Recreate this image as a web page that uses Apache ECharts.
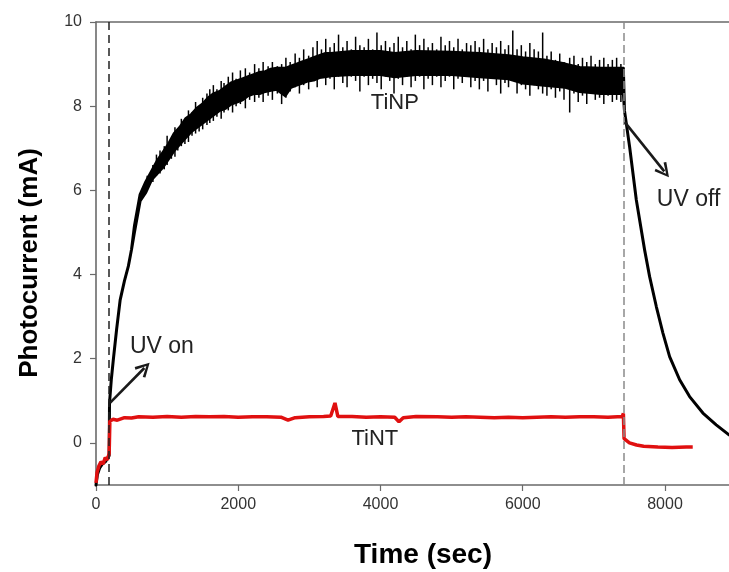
<!DOCTYPE html>
<html>
<head>
<meta charset="utf-8">
<script src="https://cdn.jsdelivr.net/npm/echarts@6/dist/echarts.min.js"></script>
<style>
html, body { margin: 0; padding: 0; background: #fff; }
#chart { width: 729px; height: 572px; }
</style>
</head>
<body>
<div id="chart"></div>
<script>
// TiNP trace (black): time, upper and lower edge of the dense core of the band
const npTime = [0, 20, 50, 90, 130, 170, 185, 190, 215, 245, 290, 340, 400, 455, 500, 540, 620, 700,
  780, 860, 940, 1020, 1100, 1180, 1260, 1340, 1420, 1500, 1580, 1660, 1740, 1820, 1900, 1980,
  2060, 2140, 2220, 2300, 2380, 2460, 2540, 2620, 2660, 2740, 2820, 2900, 2980, 3060, 3140, 3220,
  3300, 3600, 4000, 4200, 4500, 5000, 5400, 5800, 6000, 6300, 6600, 6800, 7100, 7415,
  7430, 7503, 7597, 7714, 7784, 7878, 7971, 8065, 8206, 8346, 8533, 8720, 8900];
const npUpper = [-1.0, -0.75, -0.6, -0.5, -0.45, -0.35, -0.3, 0.95, 1.5, 2.0, 2.7, 3.4, 3.85, 4.2, 4.6, 5.15, 5.9, 6.2,
  6.45, 6.7, 6.9, 7.1, 7.35, 7.5, 7.7, 7.8, 7.95, 8.05, 8.2, 8.3, 8.35, 8.45, 8.55, 8.6,
  8.65, 8.7, 8.75, 8.8, 8.82, 8.88, 8.9, 8.9, 8.9, 8.95, 9.0, 9.05, 9.1, 9.15, 9.2, 9.25,
  9.25, 9.3, 9.3, 9.25, 9.3, 9.28, 9.25, 9.2, 9.15, 9.1, 9.0, 8.92, 8.9, 8.9,
  7.9, 7.03, 5.77, 4.58, 3.95, 3.24, 2.61, 2.05, 1.5, 1.1, 0.71, 0.43, 0.19];
const npLower = [-1.0, -0.75, -0.6, -0.5, -0.45, -0.35, -0.3, 0.95, 1.5, 2.0, 2.7, 3.4, 3.85, 4.2, 4.6, 5.0, 5.75, 5.95,
  6.25, 6.4, 6.55, 6.75, 6.95, 7.1, 7.25, 7.4, 7.5, 7.6, 7.7, 7.8, 7.9, 7.95, 8.05, 8.1,
  8.15, 8.25, 8.3, 8.3, 8.35, 8.38, 8.4, 8.3, 8.25, 8.45, 8.5, 8.55, 8.6, 8.62, 8.68, 8.7,
  8.72, 8.75, 8.75, 8.7, 8.75, 8.75, 8.7, 8.65, 8.55, 8.5, 8.45, 8.35, 8.3, 8.3,
  7.9, 7.03, 5.77, 4.58, 3.95, 3.24, 2.61, 2.05, 1.5, 1.1, 0.71, 0.43, 0.19];

// TiNP noise spikes: time, low end, high end
const spikeTime = [720, 800, 850, 900, 960, 1000, 1060, 1110, 1150, 1200, 1250, 1300, 1350, 1400, 1450, 1500,
  1560, 1600, 1650, 1700, 1760, 1800, 1860, 1920, 1970, 2030, 2100, 2160, 2230, 2290, 2350, 2420,
  2480, 2550, 2610, 2670, 2730, 2800, 2860, 2920, 2990, 3050, 3110, 3170, 3230, 3290, 3350, 3410,
  3470, 3530, 3590, 3650, 3710, 3770, 3830, 3890, 3950, 4010, 4070, 4130, 4190, 4250, 4310, 4370,
  4430, 4490, 4550, 4610, 4670, 4730, 4790, 4850, 4910, 4970, 5030, 5090, 5150, 5210, 5270, 5330,
  5390, 5450, 5510, 5570, 5630, 5690, 5750, 5800, 5860, 5920, 5980, 6040, 6100, 6160, 6220, 6280,
  6340, 6400, 6460, 6520, 6580, 6660, 6720, 6780, 6840, 6900, 6960, 7020, 7080, 7140, 7200, 7260,
  7320, 7380];
const spikeLow = [6.0, 6.2, 6.35, 6.4, 6.5, 6.6, 6.75, 6.8, 6.95, 7.05, 7.1, 7.15, 7.3, 7.35, 7.4, 7.45,
  7.55, 7.6, 7.65, 7.75, 7.7, 7.85, 7.9, 7.85, 8.0, 8.05, 7.95, 8.15, 8.1, 8.2, 8.1, 8.25,
  8.15, 8.3, 8.05, 8.2, 8.35, 8.45, 8.3, 8.5, 8.4, 8.6, 8.45, 8.7, 8.5, 8.65, 8.4, 8.7,
  8.55, 8.45, 8.7, 8.6, 8.35, 8.7, 8.5, 8.65, 8.55, 8.4, 8.7, 8.6, 8.3, 8.65, 8.5, 8.7,
  8.45, 8.6, 8.7, 8.4, 8.65, 8.5, 8.7, 8.45, 8.6, 8.7, 8.4, 8.65, 8.55, 8.7, 8.45, 8.6,
  8.4, 8.6, 8.35, 8.65, 8.5, 8.3, 8.55, 8.45, 8.6, 8.3, 8.5, 8.4, 8.25, 8.5, 8.4, 8.3,
  8.25, 8.4, 8.2, 8.35, 8.15, 7.85, 8.3, 8.1, 8.25, 8.05, 8.3, 8.15, 8.2, 8.05, 8.25, 8.1,
  8.15, 8.1];
const spikeHigh = [6.35, 6.6, 6.85, 6.95, 7.05, 7.3, 7.2, 7.5, 7.45, 7.7, 7.65, 7.9, 7.85, 8.1, 8.0, 8.2,
  8.3, 8.4, 8.5, 8.4, 8.6, 8.55, 8.7, 8.8, 8.65, 8.85, 8.9, 8.8, 9.0, 8.9, 9.05, 8.95,
  9.05, 8.95, 9.0, 9.15, 9.05, 9.25, 9.15, 9.35, 9.2, 9.4, 9.55, 9.35, 9.6, 9.4, 9.5, 9.7,
  9.4, 9.55, 9.35, 9.65, 9.45, 9.4, 9.6, 9.35, 9.75, 9.45, 9.55, 9.4, 9.5, 9.65, 9.4, 9.55,
  9.35, 9.7, 9.45, 9.6, 9.4, 9.5, 9.35, 9.65, 9.45, 9.55, 9.4, 9.6, 9.35, 9.5, 9.45, 9.55,
  9.4, 9.6, 9.35, 9.5, 9.4, 9.55, 9.35, 9.45, 9.8, 9.35, 9.45, 9.3, 9.5, 9.35, 9.3, 9.75,
  9.2, 9.3, 9.1, 9.25, 9.05, 9.15, 9.2, 9.0, 9.15, 9.05, 9.2, 9.0, 9.1, 9.15, 9.0, 9.1,
  9.15, 9.0];

// TiNT trace (red)
const ntTime = [0, 15, 40, 70, 100, 130, 160, 185, 195, 240, 300, 400, 500, 600, 800, 1000, 1200, 1400,
  1600, 1800, 2000, 2200, 2400, 2600, 2700, 2800, 3000, 3200, 3300, 3360, 3400, 3600, 3800, 4000,
  4200, 4260, 4320, 4500, 4800, 5000, 5200, 5400, 5600, 5800, 6000, 6200, 6400, 6600, 6800, 7000,
  7200, 7400, 7415, 7425, 7500, 7600, 7700, 7900, 8100, 8300, 8390];
const ntValue = [-0.95, -0.7, -0.55, -0.45, -0.5, -0.35, -0.4, -0.25, 0.52, 0.56, 0.54, 0.6, 0.59, 0.62, 0.61, 0.63, 0.61, 0.63,
  0.62, 0.63, 0.61, 0.62, 0.62, 0.61, 0.54, 0.6, 0.62, 0.63, 0.64, 0.95, 0.63, 0.63, 0.61, 0.62,
  0.61, 0.5, 0.6, 0.63, 0.62, 0.61, 0.62, 0.61, 0.6, 0.61, 0.6, 0.61, 0.62, 0.61, 0.62, 0.62,
  0.61, 0.63, 0.7, 0.1, 0.0, -0.05, -0.08, -0.1, -0.11, -0.1, -0.1];

const xTicks = [0, 2000, 4000, 6000, 8000];
const yTicks = [0, 2, 4, 6, 8, 10];
const uvOnTime = 180;
const uvOffTime = 7420;

const chevron = 'path://M0,10 L5,0 L10,10 L8.4,11 L5,3.4 L1.6,11 Z';
const font = 'Liberation Sans';
const axisColor = '#6a6a6a';

const chart = echarts.init(document.getElementById('chart'));
chart.setOption({
  animation: false,
  grid: { left: 96, right: 0, top: 22, bottom: 87 },
  xAxis: [{
    type: 'value', min: 0, max: 8900,
    axisLine: { show: true, onZero: false, lineStyle: { color: axisColor, width: 1.6 } },
    axisTick: { show: true, length: 6, customValues: xTicks, lineStyle: { color: axisColor, width: 1.2 } },
    axisLabel: { customValues: xTicks, formatter: v => String(v), margin: 12, fontSize: 16, color: '#333', fontFamily: font },
    splitLine: { show: false }
  }, {
    type: 'value', min: 0, max: 8900, position: 'top',
    axisLine: { show: true, onZero: false, lineStyle: { color: axisColor, width: 1.6 } },
    axisTick: { show: false }, axisLabel: { show: false }, splitLine: { show: false }
  }],
  yAxis: {
    type: 'value', min: -1, max: 10,
    axisLine: { show: true, onZero: false, lineStyle: { color: axisColor, width: 1.6 } },
    axisTick: { show: true, length: 6, customValues: yTicks, lineStyle: { color: axisColor, width: 1.2 } },
    axisLabel: { customValues: yTicks, formatter: v => String(v), margin: 14, fontSize: 16, color: '#333', fontFamily: font },
    splitLine: { show: false }
  },
  series: [
    {
      name: 'TiNP',
      type: 'custom',
      data: [[0, 0]],
      silent: true,
      renderItem: function (params, api) {
        const pts = [];
        for (let i = 0; i < npTime.length; i++) pts.push(api.coord([npTime[i], npUpper[i]]));
        for (let i = npTime.length - 1; i >= 0; i--) pts.push(api.coord([npTime[i], npLower[i]]));
        return {
          type: 'polygon',
          shape: { points: pts },
          style: { fill: '#000', stroke: '#000', lineWidth: 3, lineJoin: 'round' }
        };
      }
    },
    {
      name: 'TiNP noise',
      type: 'custom',
      silent: true,
      data: spikeTime.map((t, i) => [t, spikeLow[i], spikeHigh[i]]),
      renderItem: function (params, api) {
        const a = api.coord([api.value(0), api.value(1)]);
        const b = api.coord([api.value(0), api.value(2)]);
        return {
          type: 'line',
          shape: { x1: a[0], y1: a[1], x2: b[0], y2: b[1] },
          style: { stroke: '#000', lineWidth: 1.5 }
        };
      }
    },
    {
      name: 'TiNT',
      type: 'line',
      data: ntTime.map((t, i) => [t, ntValue[i]]),
      showSymbol: false,
      lineStyle: { color: '#e01010', width: 3.5 },
      markLine: {
        silent: true,
        symbol: 'none',
        label: { show: false },
        data: [
          { xAxis: uvOnTime, lineStyle: { color: '#222', type: [8, 5], width: 1.5 } },
          { xAxis: uvOffTime, lineStyle: { color: '#8a8a8a', type: [8, 4], width: 1.5 } },
          [
            { coord: [197, 0.95], symbol: 'none', lineStyle: { color: '#1a1a1a', width: 2.6, type: 'solid' } },
            { coord: [680, 1.78], symbol: chevron, symbolSize: 15 }
          ],
          [
            { coord: [7435, 7.62], symbol: 'none', lineStyle: { color: '#1a1a1a', width: 2.6, type: 'solid' } },
            { coord: [7990, 6.45], symbol: chevron, symbolSize: 15 }
          ]
        ]
      },
      markPoint: {
        silent: true,
        symbol: 'circle',
        symbolSize: 0,
        label: { show: true, position: 'inside', color: '#222', fontSize: 23, fontFamily: font },
        data: [
          { coord: [927, 2.28], label: { formatter: 'UV on' } },
          { coord: [8332, 5.77], label: { formatter: 'UV off' } },
          { coord: [4201, 8.08], label: { formatter: 'TiNP', fontSize: 22 } },
          { coord: [3920, 0.1], label: { formatter: 'TiNT', fontSize: 22 } }
        ]
      }
    }
  ],
  graphic: [
    {
      type: 'text', x: 30, y: 263, rotation: Math.PI / 2,
      style: { text: 'Photocurrent (mA)', fontSize: 26, fontWeight: 'bold', fontFamily: font, fill: '#000', align: 'center', verticalAlign: 'middle' }
    },
    {
      type: 'text', x: 423, y: 555,
      style: { text: 'Time (sec)', fontSize: 28, fontWeight: 'bold', fontFamily: font, fill: '#000', align: 'center', verticalAlign: 'middle' }
    }
  ]
});
</script>
</body>
</html>
